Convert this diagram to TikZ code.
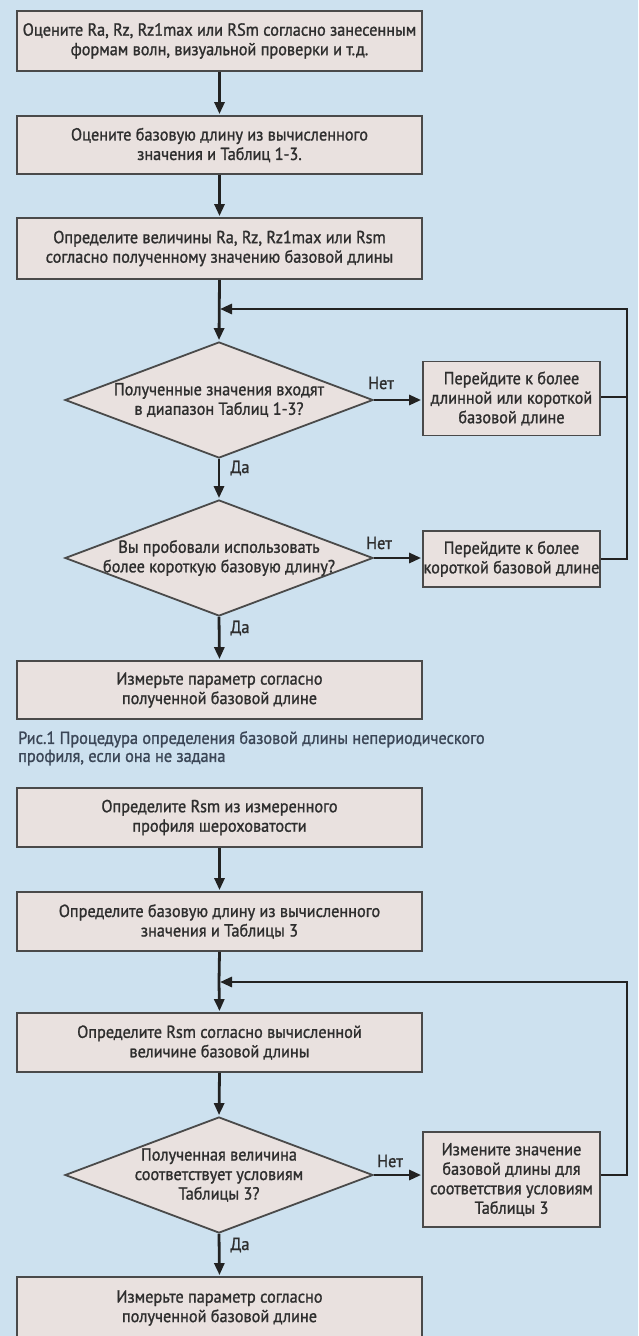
\documentclass[tikz,border=0pt]{standalone}
\usepackage{fontspec}
\setmainfont[FakeStretch=0.93,FakeBold=1.2]{PT Sans}
\usetikzlibrary{shapes.geometric,arrows.meta}
\definecolor{bg}{HTML}{CDE1EF}
\definecolor{boxfill}{HTML}{E9E1DF}
\definecolor{boxline}{HTML}{4A4A4A}
\definecolor{txt}{HTML}{2E2E2E}
\definecolor{capc}{HTML}{3B4656}
\definecolor{arrc}{HTML}{222222}
\begin{document}
\begin{tikzpicture}[x=1pt,y=-1pt,
  txtfont/.style={font=\fontsize{17.5}{19.5}\selectfont},
  box/.style={draw=boxline, line width=1.8pt, fill=boxfill, minimum width=405pt, inner sep=0pt, align=center, text=txt, txtfont},
  rbox/.style={box, minimum width=177pt},
  dia/.style={draw=boxline, line width=1.8pt, fill=boxfill, diamond, inner sep=0pt, minimum width=308pt, minimum height=116pt},
  dtext/.style={align=center, text=txt, inner sep=0pt, txtfont},
  lbl/.style={text=txt, inner sep=0pt, txtfont},
  capt/.style={align=left, text=capc, inner sep=0pt, anchor=north west, font=\fontsize{17.5}{18}\selectfont},
  conn/.style={draw=arrc, line width=2.8pt},
  arr/.style={conn, -{Triangle[width=10pt,length=12pt]}, shorten >=1pt}
]
\fill[bg] (0,0) rectangle (638,1336);
\useasboundingbox (0,0) rectangle (638,1336);

% ---------- chart 1 ----------
\node[box, minimum height=60pt] (b1) at (219.5,41) {Оцените Ra, Rz, Rz1max или RSm согласно занесенным\\формам волн, визуальной проверки и т.д.};
\node[box, minimum height=58pt] (b2) at (219.5,145) {Оцените базовую длину из вычисленного\\значения и Таблиц 1-3.};
\node[box, minimum height=61pt] (b3) at (219.5,248.5) {Определите величины Ra, Rz, Rz1max или Rsm\\согласно полученному значению базовой длины};
\node[dia] (d1) at (219,400) {};
\node[dtext] (t1) at (d1.center) {Полученные значения входят\\в диапазон Таблиц 1-3?};
\node[rbox, minimum height=74pt] (r1) at (511.5,398.5) {Перейдите к более\\длинной или короткой\\базовой длине};
\node[dia] (d2) at (219,558) {};
\node[dtext] (t2) at (d2.center) {Вы пробовали использовать\\более короткую базовую длину?};
\node[rbox, minimum height=56pt] (r2) at (511.5,559) {Перейдите к более\\короткой базовой длине};
\node[box, minimum height=58pt] (b4) at (219.5,690) {Измерьте параметр согласно\\полученной базовой длине};
\node[capt] (cap) at (18,731) {Рис.1 Процедура определения базовой длины непериодического\\профиля, если она не задана};

\coordinate (j1) at (219,309);
\coordinate (c1) at (627,309);
\draw[arr] (b1.south) -- (b2.north);
\draw[arr] (b2.south) -- (b3.north);
\draw[arr] (b3.south) -- (d1.north);
\draw[arr] (d1.east) -- (r1.west |- d1.east);
\draw[arr] (r1.east |- 0,397) -| (c1) -- (j1);
\draw[arr] (d1.south) -- (d2.north);
\draw[arr] (d2.east) -- (r2.west |- d2.east);
\draw[conn] (r2.east) -| (c1);
\draw[arr] (d2.south) -- (b4.north);
\node[lbl] (n1) at (381,383) {Нет};
\node[lbl] (y1) at (240,468) {Да};
\node[lbl] (n2) at (379,543) {Нет};
\node[lbl] (y2) at (240,628) {Да};

% ---------- chart 2 ----------
\node[box, minimum height=59pt] (b5) at (219.5,817.5) {Определите Rsm из измеренного\\профиля шероховатости};
\node[box, minimum height=59pt] (b6) at (219.5,921.5) {Определите базовую длину из вычисленного\\значения и Таблицы 3};
\node[box, minimum height=59pt] (b7) at (219.5,1042.5) {Определите Rsm согласно вычисленной\\величине базовой длины};
\node[dia] (d3) at (219,1175) {};
\node[dtext] (t3) at (d3.center) {Полученная величина\\соответствует условиям\\Таблицы 3?};
\node[rbox, minimum height=95pt] (r3) at (511.5,1179.5) {Измените значение\\базовой длины для\\соответствия условиям\\Таблицы 3};
\node[box, minimum height=62pt] (b8) at (219.5,1308) {Измерьте параметр согласно\\полученной базовой длине};

\coordinate (j2) at (219,982);
\coordinate (c2) at (627,982);
\draw[arr] (b5.south) -- (b6.north);
\draw[conn] (b6.south) -- (j2);
\draw[arr] (j2) -- (b7.north);
\draw[arr] (d3.east) -- (r3.west |- d3.east);
\draw[arr] (r3.east |- d3.east) -| (c2) -- (j2);
\draw[arr] (b7.south) -- (d3.north);
\draw[arr] (d3.south) -- (b8.north);
\node[lbl] (n3) at (390,1161) {Нет};
\node[lbl] (y3) at (240,1245) {Да};
\end{tikzpicture}
\end{document}
